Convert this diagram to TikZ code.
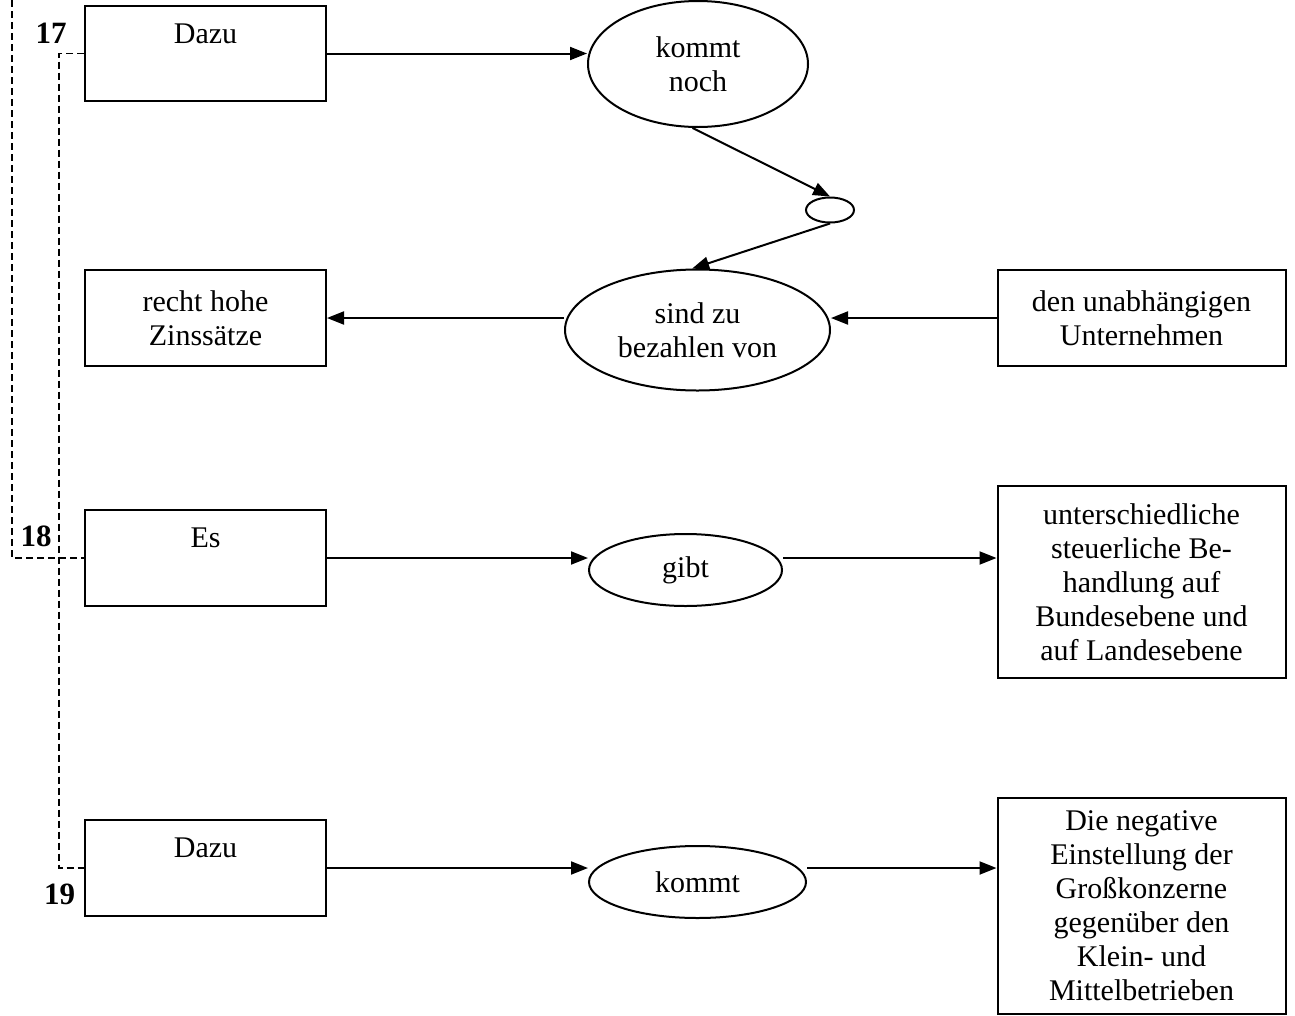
\documentclass[tikz,border=0pt]{standalone}
\usepackage{fontspec}
\setmainfont{Liberation Serif}
\usetikzlibrary{shapes.geometric,arrows.meta}
\begin{document}
\begin{tikzpicture}[x=1pt,y=-1pt,
  txt/.style={font=\fontsize{30}{34}\selectfont, align=center, inner sep=0pt},
  box/.style={draw, line width=2pt, rectangle, inner sep=0pt, txt},
  oval/.style={draw, line width=2pt, ellipse, inner sep=0pt, txt},
  arr/.style={line width=2pt, -{Triangle[length=17pt,width=13pt]}},
  dsh/.style={line width=1.6pt, dash pattern=on 7pt off 4pt},
  num/.style={font=\fontsize{31}{34}\selectfont\bfseries, anchor=base, inner sep=0pt}]
\useasboundingbox (0,0) rectangle (1295,1015);

% row 17
\node[box, minimum width=241pt, minimum height=95pt] (dazuA) at (205.5,53.5) {};
\node[txt, anchor=base] (dazuAt) at (205.5,43) {Dazu};
\node[oval, minimum width=220pt, minimum height=126pt] (kn) at (698,64) {kommt\\noch};
\node[oval, minimum width=48pt, minimum height=25pt] (sm) at (830,210) {};
\node[oval, minimum width=265pt, minimum height=121pt] (sz) at (697.5,330) {sind zu\\bezahlen von};
\node[box, minimum width=241pt, minimum height=96pt] (rh) at (205.5,318) {recht hohe\\Zinssätze};
\node[box, minimum width=288pt, minimum height=96pt] (du) at (1141.5,318) {den unabhängigen\\Unternehmen};

% row 18
\node[box, minimum width=241pt, minimum height=96pt] (es) at (205.5,558) {};
\node[txt, anchor=base] (est) at (205.5,547) {Es};
\node[oval, minimum width=193pt, minimum height=72pt] (gb) at (685.5,570) {gibt};
\node[box, minimum width=288pt, minimum height=192pt] (us) at (1141.5,582) {unterschiedliche\\steuerliche Be-\\handlung auf\\Bundesebene und\\auf Landesebene};

% row 19
\node[box, minimum width=241pt, minimum height=96pt] (dazuB) at (205.5,868) {};
\node[txt, anchor=base] (dazuBt) at (205.5,857) {Dazu};
\node[oval, minimum width=217pt, minimum height=72pt] (km) at (697.5,882) {kommt};
\node[box, minimum width=288pt, minimum height=216pt] (dn) at (1141.5,906) {Die negative\\Einstellung der\\Großkonzerne\\gegenüber den\\Klein- und\\Mittelbetrieben};

% numbers
\node[num] (n17) at (51,43) {17};
\node[num] (n18) at (36,546) {18};
\node[num] (n19) at (59.5,904) {19};

% arrows
\draw[arr] (dazuA.east) -- (dazuA.east -| kn.west);
\draw[arr] (kn.265) -- (sm.north);
\draw[arr] (sm.south) -- (sz.95);
\draw[arr] (sz.west |- rh.east) -- (rh.east);
\draw[arr] (du.west) -- (du.west -| sz.east);
\draw[arr] (es.east) -- (es.east -| gb.west);
\draw[arr] (gb.east |- es.east) -- (us.west |- es.east);
\draw[arr] (dazuB.east) -- (dazuB.east -| km.west);
\draw[arr] (km.east |- dazuB.east) -- (dn.west |- dazuB.east);

% dashed brackets
\coordinate (otop) at (12,0);
\draw[dsh] (otop) |- (es.west);
\coordinate (ileft) at (59,0);
\draw[dsh] (dazuA.west) -- (dazuA.west -| ileft) |- (dazuB.west);
\end{tikzpicture}
\end{document}
